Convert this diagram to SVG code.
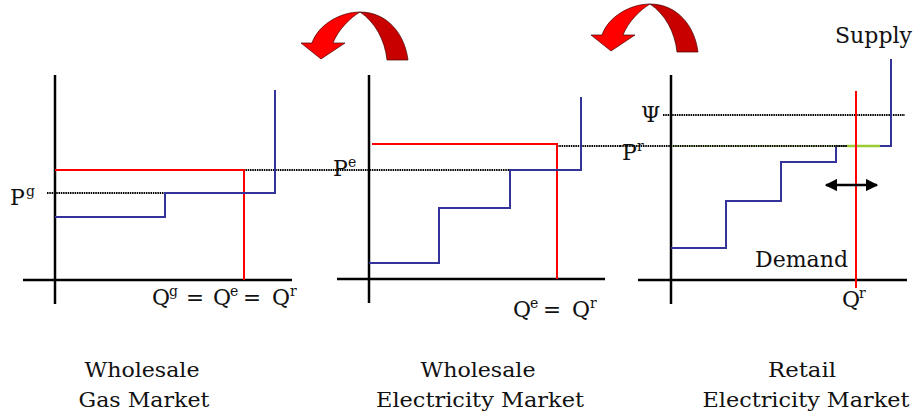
<svg xmlns="http://www.w3.org/2000/svg" width="915" height="418" viewBox="0 0 915 418" font-family="'DejaVu Serif', 'Liberation Serif', serif">
<style>
.ax{stroke:#000;stroke-width:2.5;fill:none}
.red{stroke:#FF0000;stroke-width:2;fill:none}
.blue{stroke:#333399;stroke-width:2;fill:none}
.dot{stroke:#000;stroke-width:2;stroke-dasharray:1.5 0.8;fill:none}
.grn{stroke:#99CC33;stroke-width:2.5;fill:none}
text{font-family:'DejaVu Serif','Liberation Serif',serif;fill:#111}
.lab{font-size:21px}
.sym{font-size:22px}
.sup{font-size:14px}
.front{fill:#FF0000;stroke:#400;stroke-width:0.7}
.back{fill:#C80000;stroke:#400;stroke-width:0.7}
</style>
<defs>
<marker id="ah" viewBox="0 0 10 10" refX="9" refY="5" markerWidth="5" markerHeight="5" orient="auto-start-reverse">
<path d="M0,0 L10,5 L0,10 Z" fill="#000"/>
</marker>
<g id="curl">
<path class="back" d="M360,12 C388,12 405,35 408,60 L387,60 C385,40 375,22 360,12 Z"/>
<path class="front" d="M360,12 C340,12 318,25 312,43 L301,43 L321,59 L345,43 L333,43 C338,30 350,18 360,12 Z"/>
</g>
</defs>

<g id="connectors">
<use href="#curl"/>
<use href="#curl" transform="translate(290,-8)"/>
<line class="dot" x1="227" y1="170" x2="533" y2="170"/>
<line class="dot" x1="557" y1="146" x2="620" y2="146"/>
</g>

<g id="panel-gas">
<line class="ax" x1="55" y1="75" x2="55" y2="304"/>
<line class="ax" x1="23" y1="280" x2="292" y2="280"/>
<line class="dot" x1="47" y1="193" x2="233" y2="193"/>
<polyline class="red" points="55,170 244,170 244,280"/>
<polyline class="blue" points="55,217 165,217 165,193 275,193 275,90"/>
<text class="sym" x="10" y="205">P</text><text class="sup" x="26" y="196">g</text>
<text class="sym" x="152" y="305">Q</text><text class="sup" x="169" y="296">g</text>
<text class="sym" x="186" y="305" textLength="18" lengthAdjust="spacingAndGlyphs">=</text>
<text class="sym" x="213" y="305">Q</text><text class="sup" x="230" y="296">e</text>
<text class="sym" x="243" y="305" textLength="18" lengthAdjust="spacingAndGlyphs">=</text>
<text class="sym" x="272" y="305">Q</text><text class="sup" x="290" y="296">r</text>
<text class="lab" x="142" y="377" text-anchor="middle" textLength="115" lengthAdjust="spacingAndGlyphs">Wholesale</text>
<text class="lab" x="144" y="407" text-anchor="middle" textLength="131" lengthAdjust="spacingAndGlyphs">Gas Market</text>
</g>

<g id="panel-wholesale-electricity">
<line class="ax" x1="369" y1="75" x2="369" y2="303"/>
<line class="ax" x1="337" y1="279" x2="605" y2="279"/>
<polyline class="red" points="372,144 557,144 557,279"/>
<polyline class="blue" points="369,263 439,263 439,208 510,208 510,170 581,170 581,97"/>
<text class="sym" x="333" y="176">P</text><text class="sup" x="348" y="167">e</text>
<text class="sym" x="513" y="317">Q</text><text class="sup" x="530" y="308">e</text>
<text class="sym" x="543" y="317" textLength="18" lengthAdjust="spacingAndGlyphs">=</text>
<text class="sym" x="572" y="317">Q</text><text class="sup" x="590" y="308">r</text>
<text class="lab" x="478" y="377" text-anchor="middle" textLength="115" lengthAdjust="spacingAndGlyphs">Wholesale</text>
<text class="lab" x="480" y="407" text-anchor="middle" textLength="208" lengthAdjust="spacingAndGlyphs">Electricity Market</text>
</g>

<g id="panel-retail">
<line class="ax" x1="671" y1="75" x2="671" y2="304"/>
<line class="ax" x1="638" y1="280" x2="907" y2="280"/>
<line class="dot" x1="663" y1="115" x2="905" y2="115"/>
<polyline class="blue" points="671,248 726,248 726,201 781,201 781,162 836,162 836,146 891,146 891,59"/>
<line x1="671" y1="146" x2="847" y2="146" stroke="#99CC33" stroke-width="1.2"/>
<line class="dot" x1="620" y1="146" x2="847" y2="146"/>
<line class="grn" x1="847" y1="146" x2="880" y2="146"/>
<line x1="856" y1="91" x2="856" y2="288" class="red"/>
<line x1="826" y1="185" x2="877" y2="185" stroke="#000" stroke-width="2.5" marker-start="url(#ah)" marker-end="url(#ah)"/>
<text class="sym" x="641" y="122">Ψ</text>
<text class="sym" x="622" y="160">P</text><text class="sup" x="637" y="151">r</text>
<text class="sym" x="835" y="43" textLength="77" lengthAdjust="spacingAndGlyphs">Supply</text>
<text class="sym" x="755" y="267" textLength="93" lengthAdjust="spacingAndGlyphs">Demand</text>
<text class="sym" x="842" y="307">Q</text><text class="sup" x="859" y="298">r</text>
<text class="lab" x="802" y="377" text-anchor="middle" textLength="68" lengthAdjust="spacingAndGlyphs">Retail</text>
<text class="lab" x="806" y="407" text-anchor="middle" textLength="207" lengthAdjust="spacingAndGlyphs">Electricity Market</text>
</g>
</svg>
